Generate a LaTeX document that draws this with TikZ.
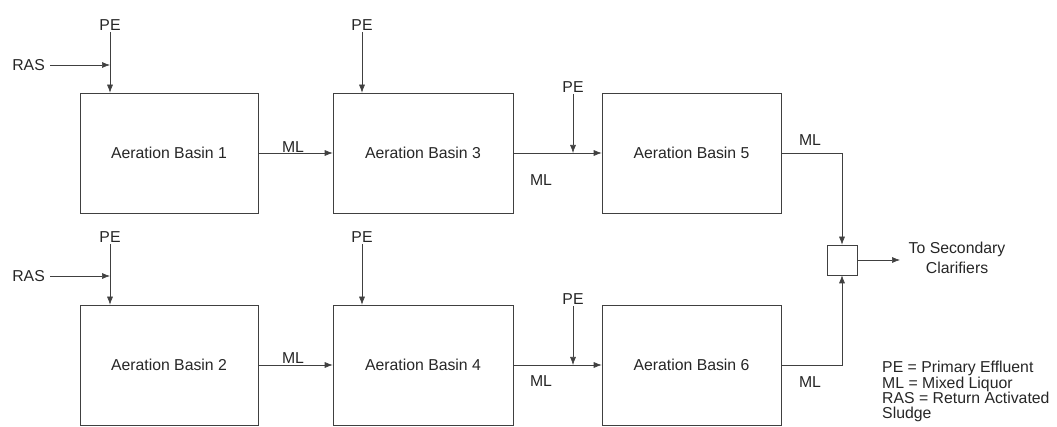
\documentclass[tikz,border=0pt]{standalone}
\usepackage{fontspec}
\setmainfont{Liberation Sans}
\usetikzlibrary{arrows.meta}
\begin{document}
\begin{tikzpicture}[x=1pt,y=-1pt,
  every node/.style={font=\fontsize{15.8}{15.4}\selectfont, text=black!85},
  basin/.style={draw=black!75, line width=0.6pt, minimum height=120pt, inner sep=0pt},
  junc/.style={draw=black!75, line width=0.6pt, minimum width=30pt, minimum height=30pt, inner sep=0pt},
  lbl/.style={inner sep=1pt},
  arr/.style={draw=black!75, line width=0.6pt, -{Latex[length=8pt,width=6pt]}},
  ln/.style={draw=black!75, line width=0.6pt}]
\useasboundingbox (0,0) rectangle (1057,427);
% basins
\node[basin, minimum width=178pt] (b1) at (169,153) {Aeration Basin 1};
\node[basin, minimum width=180pt] (b3) at (423,153) {Aeration Basin 3};
\node[basin, minimum width=179pt] (b5) at (691.5,153) {Aeration Basin 5};
\node[basin, minimum width=178pt] (b2) at (169,365) {Aeration Basin 2};
\node[basin, minimum width=180pt] (b4) at (423,365) {Aeration Basin 4};
\node[basin, minimum width=179pt] (b6) at (691.5,365) {Aeration Basin 6};
\node[junc] (J) at (842,260) {};
% input labels
\node[lbl, anchor=south] (pe1) at (110,32) {PE};
\node[lbl, anchor=south] (pe3) at (362,32) {PE};
\node[lbl, anchor=south] (pe5) at (573,94) {PE};
\node[lbl, anchor=south] (pe2) at (110,244) {PE};
\node[lbl, anchor=south] (pe4) at (362,244) {PE};
\node[lbl, anchor=south] (pe6) at (573,306) {PE};
\node[lbl, anchor=east] (ras1) at (46,65) {RAS};
\node[lbl, anchor=east] (ras2) at (46,276) {RAS};
% ML labels
\node[lbl] (ml13) at (293,147) {ML};
\node[lbl] (ml35) at (541,180) {ML};
\node[lbl] (ml5) at (810,140) {ML};
\node[lbl] (ml24) at (293,358) {ML};
\node[lbl] (ml46) at (541,381) {ML};
\node[lbl] (ml6) at (810,382) {ML};
% output
\node[lbl, align=center] (out) at (957,258) {To Secondary\\[4pt]Clarifiers};
% legend
\node[lbl, anchor=north west, align=left] (legend) at (881,360) {PE = Primary Effluent\\ML = Mixed Liquor\\RAS = Return Activated\\Sludge};
% connectors
\draw[arr] (pe1.south) -- (pe1.south |- b1.north);
\draw[arr] (pe3.south) -- (pe3.south |- b3.north);
\draw[arr] (pe5.south) -- (pe5.south |- b5.west);
\draw[arr] (pe2.south) -- (pe2.south |- b2.north);
\draw[arr] (pe4.south) -- (pe4.south |- b4.north);
\draw[arr] (pe6.south) -- (pe6.south |- b6.west);
\draw[arr] (ras1.east) ++(4,0) -- (ras1.east -| pe1.south);
\draw[arr] (ras2.east) ++(4,0) -- (ras2.east -| pe2.south);
\draw[arr] (b1.east) -- (b3.west);
\draw[arr] (b3.east) -- (b5.west);
\draw[arr] (b2.east) -- (b4.west);
\draw[arr] (b4.east) -- (b6.west);
\draw[arr] (b5.east) -| (J.north);
\draw[arr] (b6.east) -| (J.south);
\draw[arr] (J.east) -- (900,260);
\end{tikzpicture}
\end{document}
